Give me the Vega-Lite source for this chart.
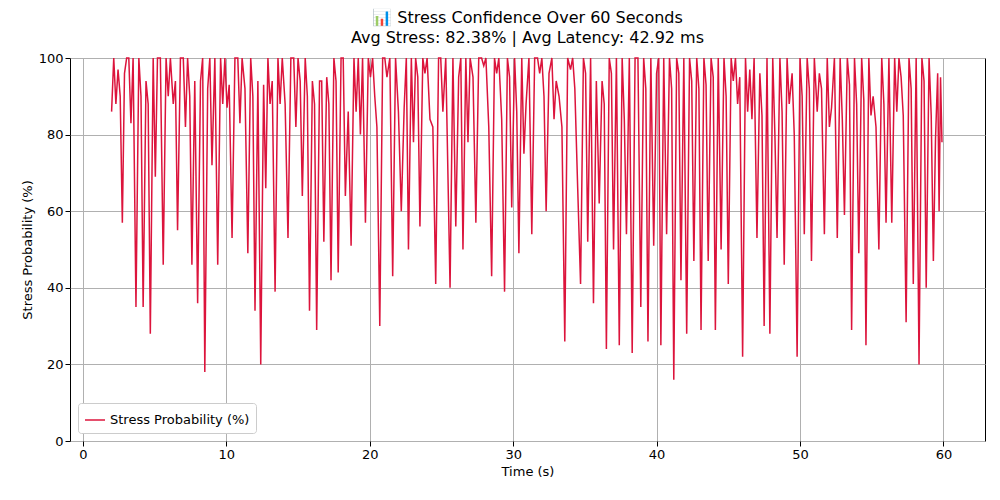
{
  "$schema": "https://vega.github.io/schema/vega-lite/v6.json",
  "width": 915,
  "height": 383,
  "autosize": {"type": "none"},
  "padding": {"left": 70, "top": 58, "right": 15, "bottom": 59},
  "config": {"font": "DejaVu Sans", "view": {"stroke": "black", "strokeWidth": 1}},
  "title": {"text": ["📊 Stress Confidence Over 60 Seconds", "Avg Stress: 82.38% | Avg Latency: 42.92 ms"], "fontSize": 16, "fontWeight": "normal", "color": "black", "lineHeight": 20, "offset": 6},
  "data": {"values": [
    {"t": 2.0, "v": 86}, {"t": 2.15, "v": 100}, {"t": 2.3, "v": 88}, {"t": 2.45, "v": 97}, {"t": 2.6, "v": 90}, {"t": 2.75, "v": 57}, {"t": 2.9, "v": 96}, {"t": 3.05, "v": 100}, {"t": 3.2, "v": 100}, {"t": 3.35, "v": 83}, {"t": 3.5, "v": 100}, {"t": 3.7, "v": 35}, {"t": 3.9, "v": 100}, {"t": 4.05, "v": 90}, {"t": 4.2, "v": 35}, {"t": 4.4, "v": 94}, {"t": 4.55, "v": 88}, {"t": 4.7, "v": 28}, {"t": 4.9, "v": 100}, {"t": 5.05, "v": 69}, {"t": 5.2, "v": 100}, {"t": 5.4, "v": 100}, {"t": 5.6, "v": 46}, {"t": 5.8, "v": 100}, {"t": 5.95, "v": 90}, {"t": 6.1, "v": 100}, {"t": 6.3, "v": 88}, {"t": 6.45, "v": 94}, {"t": 6.6, "v": 55}, {"t": 6.8, "v": 100}, {"t": 7.0, "v": 100}, {"t": 7.15, "v": 82}, {"t": 7.3, "v": 100}, {"t": 7.45, "v": 90}, {"t": 7.6, "v": 46}, {"t": 7.8, "v": 94}, {"t": 8.0, "v": 36}, {"t": 8.2, "v": 94}, {"t": 8.35, "v": 100}, {"t": 8.5, "v": 18}, {"t": 8.7, "v": 92}, {"t": 8.85, "v": 100}, {"t": 9.0, "v": 72}, {"t": 9.2, "v": 100}, {"t": 9.4, "v": 46}, {"t": 9.6, "v": 100}, {"t": 9.75, "v": 88}, {"t": 9.9, "v": 100}, {"t": 10.05, "v": 87}, {"t": 10.2, "v": 93}, {"t": 10.4, "v": 53}, {"t": 10.6, "v": 100}, {"t": 10.8, "v": 100}, {"t": 10.95, "v": 83}, {"t": 11.1, "v": 100}, {"t": 11.3, "v": 92}, {"t": 11.5, "v": 49}, {"t": 11.7, "v": 100}, {"t": 11.85, "v": 90}, {"t": 12.0, "v": 34}, {"t": 12.2, "v": 94}, {"t": 12.4, "v": 20}, {"t": 12.6, "v": 93}, {"t": 12.75, "v": 66}, {"t": 12.9, "v": 100}, {"t": 13.05, "v": 88}, {"t": 13.2, "v": 94}, {"t": 13.4, "v": 39}, {"t": 13.6, "v": 100}, {"t": 13.75, "v": 88}, {"t": 13.9, "v": 100}, {"t": 14.1, "v": 88}, {"t": 14.3, "v": 53}, {"t": 14.5, "v": 100}, {"t": 14.7, "v": 100}, {"t": 14.85, "v": 82}, {"t": 15.0, "v": 100}, {"t": 15.15, "v": 94}, {"t": 15.3, "v": 64}, {"t": 15.5, "v": 100}, {"t": 15.65, "v": 90}, {"t": 15.8, "v": 34}, {"t": 16.0, "v": 94}, {"t": 16.15, "v": 88}, {"t": 16.3, "v": 29}, {"t": 16.5, "v": 94}, {"t": 16.65, "v": 94}, {"t": 16.8, "v": 52}, {"t": 17.0, "v": 95}, {"t": 17.15, "v": 88}, {"t": 17.3, "v": 42}, {"t": 17.5, "v": 100}, {"t": 17.65, "v": 94}, {"t": 17.8, "v": 44}, {"t": 18.0, "v": 100}, {"t": 18.15, "v": 100}, {"t": 18.3, "v": 64}, {"t": 18.5, "v": 86}, {"t": 18.7, "v": 51}, {"t": 18.9, "v": 100}, {"t": 19.05, "v": 86}, {"t": 19.2, "v": 100}, {"t": 19.35, "v": 80}, {"t": 19.5, "v": 100}, {"t": 19.7, "v": 57}, {"t": 19.9, "v": 100}, {"t": 20.05, "v": 95}, {"t": 20.2, "v": 100}, {"t": 20.35, "v": 90}, {"t": 20.5, "v": 82}, {"t": 20.7, "v": 30}, {"t": 20.9, "v": 100}, {"t": 21.05, "v": 100}, {"t": 21.2, "v": 95}, {"t": 21.4, "v": 100}, {"t": 21.6, "v": 43}, {"t": 21.8, "v": 100}, {"t": 22.0, "v": 86}, {"t": 22.2, "v": 60}, {"t": 22.4, "v": 87}, {"t": 22.55, "v": 100}, {"t": 22.7, "v": 50}, {"t": 22.9, "v": 100}, {"t": 23.05, "v": 78}, {"t": 23.2, "v": 100}, {"t": 23.35, "v": 95}, {"t": 23.5, "v": 56}, {"t": 23.7, "v": 100}, {"t": 23.85, "v": 96}, {"t": 24.0, "v": 100}, {"t": 24.2, "v": 84}, {"t": 24.4, "v": 82}, {"t": 24.6, "v": 41}, {"t": 24.8, "v": 100}, {"t": 24.95, "v": 100}, {"t": 25.1, "v": 86}, {"t": 25.3, "v": 100}, {"t": 25.6, "v": 40}, {"t": 25.8, "v": 100}, {"t": 26.0, "v": 56}, {"t": 26.2, "v": 95}, {"t": 26.35, "v": 100}, {"t": 26.5, "v": 50}, {"t": 26.7, "v": 100}, {"t": 26.85, "v": 78}, {"t": 27.0, "v": 100}, {"t": 27.2, "v": 95}, {"t": 27.4, "v": 57}, {"t": 27.6, "v": 100}, {"t": 27.8, "v": 100}, {"t": 27.95, "v": 98}, {"t": 28.1, "v": 100}, {"t": 28.3, "v": 82}, {"t": 28.5, "v": 43}, {"t": 28.7, "v": 100}, {"t": 28.85, "v": 96}, {"t": 29.0, "v": 100}, {"t": 29.2, "v": 84}, {"t": 29.4, "v": 39}, {"t": 29.6, "v": 100}, {"t": 29.75, "v": 95}, {"t": 29.9, "v": 61}, {"t": 30.1, "v": 100}, {"t": 30.25, "v": 86}, {"t": 30.4, "v": 49}, {"t": 30.6, "v": 100}, {"t": 30.75, "v": 75}, {"t": 30.9, "v": 88}, {"t": 31.1, "v": 100}, {"t": 31.3, "v": 54}, {"t": 31.5, "v": 100}, {"t": 31.7, "v": 100}, {"t": 31.85, "v": 96}, {"t": 32.0, "v": 100}, {"t": 32.15, "v": 90}, {"t": 32.3, "v": 60}, {"t": 32.5, "v": 96}, {"t": 32.7, "v": 100}, {"t": 32.85, "v": 84}, {"t": 33.0, "v": 94}, {"t": 33.2, "v": 90}, {"t": 33.4, "v": 82}, {"t": 33.6, "v": 26}, {"t": 33.8, "v": 100}, {"t": 34.0, "v": 97}, {"t": 34.15, "v": 100}, {"t": 34.3, "v": 92}, {"t": 34.5, "v": 66}, {"t": 34.7, "v": 41}, {"t": 34.9, "v": 100}, {"t": 35.05, "v": 96}, {"t": 35.2, "v": 52}, {"t": 35.4, "v": 100}, {"t": 35.6, "v": 36}, {"t": 35.8, "v": 94}, {"t": 36.0, "v": 62}, {"t": 36.2, "v": 94}, {"t": 36.35, "v": 88}, {"t": 36.5, "v": 24}, {"t": 36.7, "v": 100}, {"t": 36.85, "v": 96}, {"t": 37.0, "v": 50}, {"t": 37.2, "v": 100}, {"t": 37.4, "v": 25}, {"t": 37.6, "v": 100}, {"t": 37.75, "v": 84}, {"t": 37.9, "v": 54}, {"t": 38.1, "v": 100}, {"t": 38.3, "v": 23}, {"t": 38.5, "v": 100}, {"t": 38.7, "v": 100}, {"t": 38.9, "v": 35}, {"t": 39.1, "v": 100}, {"t": 39.25, "v": 92}, {"t": 39.4, "v": 26}, {"t": 39.6, "v": 100}, {"t": 39.8, "v": 51}, {"t": 40.0, "v": 96}, {"t": 40.15, "v": 100}, {"t": 40.3, "v": 25}, {"t": 40.5, "v": 100}, {"t": 40.7, "v": 54}, {"t": 40.9, "v": 100}, {"t": 41.05, "v": 92}, {"t": 41.2, "v": 16}, {"t": 41.4, "v": 100}, {"t": 41.55, "v": 96}, {"t": 41.7, "v": 42}, {"t": 41.9, "v": 100}, {"t": 42.1, "v": 28}, {"t": 42.3, "v": 100}, {"t": 42.45, "v": 94}, {"t": 42.6, "v": 47}, {"t": 42.8, "v": 100}, {"t": 42.95, "v": 92}, {"t": 43.1, "v": 29}, {"t": 43.3, "v": 100}, {"t": 43.45, "v": 93}, {"t": 43.6, "v": 47}, {"t": 43.8, "v": 100}, {"t": 43.95, "v": 95}, {"t": 44.1, "v": 29}, {"t": 44.3, "v": 100}, {"t": 44.5, "v": 50}, {"t": 44.7, "v": 100}, {"t": 44.85, "v": 90}, {"t": 45.0, "v": 41}, {"t": 45.2, "v": 100}, {"t": 45.35, "v": 94}, {"t": 45.5, "v": 100}, {"t": 45.65, "v": 88}, {"t": 45.8, "v": 95}, {"t": 46.0, "v": 22}, {"t": 46.2, "v": 100}, {"t": 46.35, "v": 86}, {"t": 46.5, "v": 97}, {"t": 46.65, "v": 84}, {"t": 46.8, "v": 100}, {"t": 47.0, "v": 53}, {"t": 47.2, "v": 96}, {"t": 47.35, "v": 85}, {"t": 47.5, "v": 30}, {"t": 47.7, "v": 100}, {"t": 47.9, "v": 28}, {"t": 48.1, "v": 100}, {"t": 48.25, "v": 80}, {"t": 48.4, "v": 53}, {"t": 48.6, "v": 100}, {"t": 48.75, "v": 86}, {"t": 48.9, "v": 46}, {"t": 49.1, "v": 100}, {"t": 49.25, "v": 88}, {"t": 49.45, "v": 96}, {"t": 49.6, "v": 80}, {"t": 49.8, "v": 22}, {"t": 50.0, "v": 100}, {"t": 50.15, "v": 90}, {"t": 50.3, "v": 54}, {"t": 50.5, "v": 100}, {"t": 50.65, "v": 92}, {"t": 50.8, "v": 47}, {"t": 51.0, "v": 100}, {"t": 51.2, "v": 86}, {"t": 51.35, "v": 96}, {"t": 51.5, "v": 92}, {"t": 51.7, "v": 54}, {"t": 51.9, "v": 100}, {"t": 52.05, "v": 82}, {"t": 52.2, "v": 87}, {"t": 52.4, "v": 100}, {"t": 52.6, "v": 53}, {"t": 52.8, "v": 100}, {"t": 52.95, "v": 84}, {"t": 53.1, "v": 59}, {"t": 53.3, "v": 100}, {"t": 53.45, "v": 93}, {"t": 53.6, "v": 29}, {"t": 53.8, "v": 100}, {"t": 53.95, "v": 88}, {"t": 54.1, "v": 49}, {"t": 54.3, "v": 100}, {"t": 54.45, "v": 89}, {"t": 54.6, "v": 25}, {"t": 54.8, "v": 100}, {"t": 54.95, "v": 85}, {"t": 55.1, "v": 90}, {"t": 55.3, "v": 82}, {"t": 55.5, "v": 50}, {"t": 55.7, "v": 100}, {"t": 55.85, "v": 88}, {"t": 56.0, "v": 57}, {"t": 56.2, "v": 100}, {"t": 56.4, "v": 57}, {"t": 56.6, "v": 100}, {"t": 56.75, "v": 86}, {"t": 56.9, "v": 100}, {"t": 57.05, "v": 95}, {"t": 57.2, "v": 85}, {"t": 57.4, "v": 31}, {"t": 57.6, "v": 100}, {"t": 57.75, "v": 92}, {"t": 57.9, "v": 41}, {"t": 58.1, "v": 100}, {"t": 58.3, "v": 20}, {"t": 58.5, "v": 100}, {"t": 58.65, "v": 94}, {"t": 58.8, "v": 40}, {"t": 59.0, "v": 100}, {"t": 59.15, "v": 85}, {"t": 59.3, "v": 47}, {"t": 59.45, "v": 79}, {"t": 59.6, "v": 96}, {"t": 59.7, "v": 60}, {"t": 59.8, "v": 95}, {"t": 59.9, "v": 78}
  ]},
  "mark": {"type": "line", "strokeWidth": 1.5, "interpolate": "linear"},
  "encoding": {
    "x": {"field": "t", "type": "quantitative", "title": "Time (s)",
      "scale": {"domain": [-0.9, 62.9], "nice": false, "zero": false},
      "axis": {"values": [0, 10, 20, 30, 40, 50, 60], "grid": true, "gridColor": "#b0b0b0", "domain": false, "tickColor": "black", "labelColor": "black", "labelFontSize": 13, "titleFontSize": 13, "titleFontWeight": "normal", "titleColor": "black", "labelFlush": false}},
    "y": {"field": "v", "type": "quantitative", "title": "Stress Probability (%)",
      "scale": {"domain": [0, 100], "nice": false},
      "axis": {"values": [0, 20, 40, 60, 80, 100], "grid": true, "gridColor": "#b0b0b0", "domain": false, "tickColor": "black", "labelColor": "black", "labelFontSize": 13, "titleFontSize": 13, "titleFontWeight": "normal", "titleColor": "black"}},
    "color": {"datum": "Stress Probability (%)", "type": "nominal",
      "scale": {"range": ["crimson"]},
      "legend": {"title": null, "orient": "bottom-left", "symbolType": "stroke", "symbolStrokeWidth": 1.5, "symbolSize": 400, "labelFontSize": 13, "labelColor": "black", "fillColor": "white", "strokeColor": "#cccccc", "padding": 6, "cornerRadius": 3, "offset": 8}}
  }
}
